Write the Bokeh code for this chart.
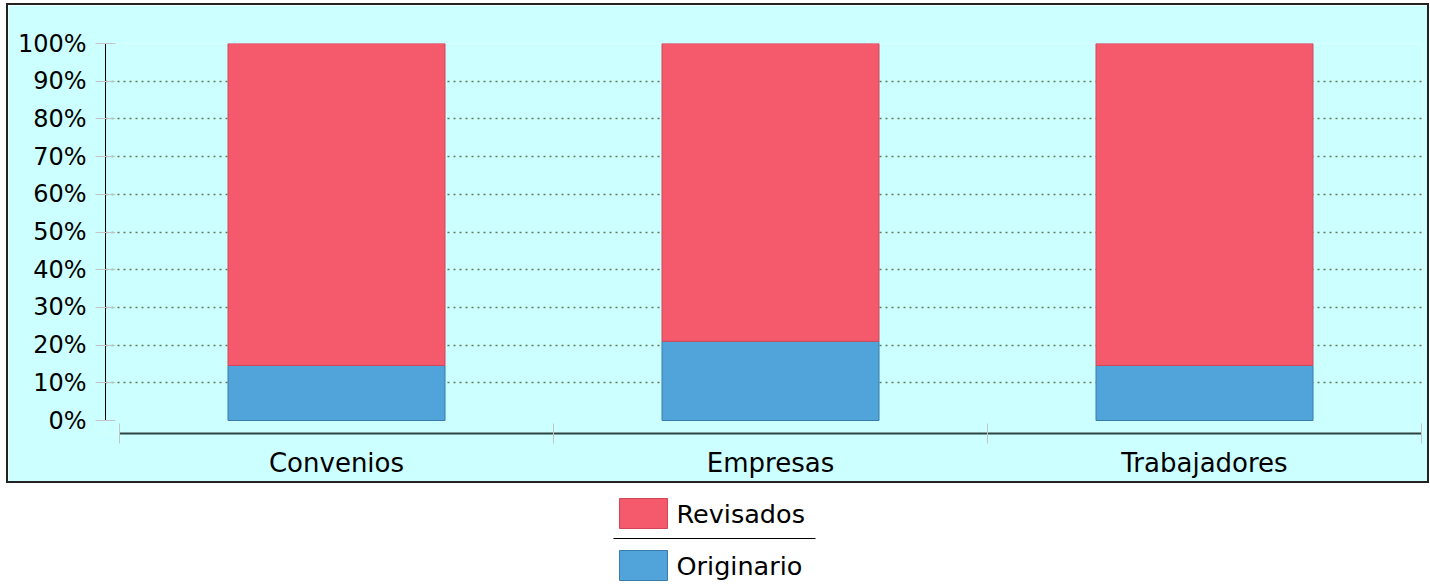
from bokeh.plotting import figure
from bokeh.models import Range1d, FixedTicker, ColumnDataSource, PrintfTickFormatter
from bokeh.layouts import column
from bokeh.core.properties import value
from bokeh.embed import file_html
from bokeh.resources import INLINE

categories = ["Convenios", "Empresas", "Trabajadores"]
series = ["Originario", "Revisados"]
originario = [14.6, 21.0, 14.6]
revisados = [85.4, 79.0, 85.4]
y_ticks = [0, 10, 20, 30, 40, 50, 60, 70, 80, 90, 100]

colors = ["#50a4da", "#f45a6c"]
edge_colors = ["#3a7cab", "#d2465a"]
FONT = "DejaVu Sans"

xs = [i + 0.5 for i in range(len(categories))]
src = ColumnDataSource(dict(x=xs, Originario=originario, Revisados=revisados))

FW, FH = 1317, 390
cat_px = 434.0
x0 = -14 / cat_px
p = figure(width=97 + FW + 5, height=38 + FH + 48,
           min_border_left=97, min_border_top=38, min_border_right=5, min_border_bottom=48,
           x_range=Range1d(x0, x0 + FW / cat_px),
           y_range=Range1d(-13 / 3.77, 100),
           toolbar_location=None, output_backend="svg",
           background_fill_color="#ccffff", border_fill_color="#ccffff",
           outline_line_color=None,
           styles={"outline": "2px solid #222222"})

p.vbar_stack(series, x="x", width=0.5, source=src, color=colors,
             line_color=edge_colors, line_width=1)

p.xgrid.visible = False
p.ygrid.ticker = FixedTicker(ticks=y_ticks[1:])
p.ygrid.grid_line_color = "#5f7a55"
p.ygrid.grid_line_dash = "2 4"
p.ygrid.grid_line_width = 1.5

ya = p.yaxis[0]
ya.ticker = FixedTicker(ticks=y_ticks)
ya.formatter = PrintfTickFormatter(format="%d%%")
ya.bounds = (0, 100)
ya.axis_line_color = "black"
ya.axis_line_width = 1
ya.major_tick_in = 10
ya.major_tick_out = 10
ya.major_tick_line_color = "#c4c4c4"
ya.minor_tick_line_color = None
ya.major_label_standoff = 9
ya.major_label_text_font = FONT
ya.major_label_text_font_size = "24px"
ya.major_label_text_color = "black"

xa = p.xaxis[0]
xa.ticker = FixedTicker(ticks=xs, minor_ticks=list(range(len(categories) + 1)))
xa.major_label_overrides = {x: c for x, c in zip(xs, categories)}
xa.bounds = (0, len(categories))
xa.axis_line_color = "#2f4444"
xa.axis_line_width = 2
xa.major_tick_in = 0
xa.major_tick_out = 0
xa.major_tick_line_color = None
xa.minor_tick_in = 10
xa.minor_tick_out = 10
xa.minor_tick_line_color = "#c4c4c4"
xa.major_label_standoff = 4
xa.major_label_text_font = FONT
xa.major_label_text_font_size = "26px"
xa.major_label_text_color = "black"

# legend area (page-pixel coordinates)
LG_TOP = 5 + 38 + FH + 48
LG_H = 584 - LG_TOP
lg = figure(width=97 + FW + 5, height=LG_H,
            min_border_left=97, min_border_right=5, min_border_top=0, min_border_bottom=0,
            x_range=Range1d(105, 105 + FW), y_range=Range1d(LG_TOP + LG_H, LG_TOP),
            x_axis_location=None, y_axis_location=None,
            toolbar_location=None, output_backend="svg",
            background_fill_color=None, border_fill_color=None,
            outline_line_color=None)
lg.grid.visible = False
legend_order = [1, 0]
tops = [498, 550]
for k, i in enumerate(legend_order):
    t = tops[k]
    lg.quad(left=619, right=667, top=t, bottom=t + 30, fill_color=colors[i],
            line_color=edge_colors[i], line_width=1)
    lg.text(x=[676], y=[t + 15], text=[series[i]], text_baseline="middle",
            text_align="left", text_font=value(FONT), text_font_size="25.5px",
            text_color="black")
lg.segment(x0=[613], y0=[538], x1=[815], y1=[538], line_color="black", line_width=1)

layout = column(p, lg, styles={"margin-top": "5px", "margin-left": "8px"})
open("out.html", "w").write(file_html(layout, INLINE))
